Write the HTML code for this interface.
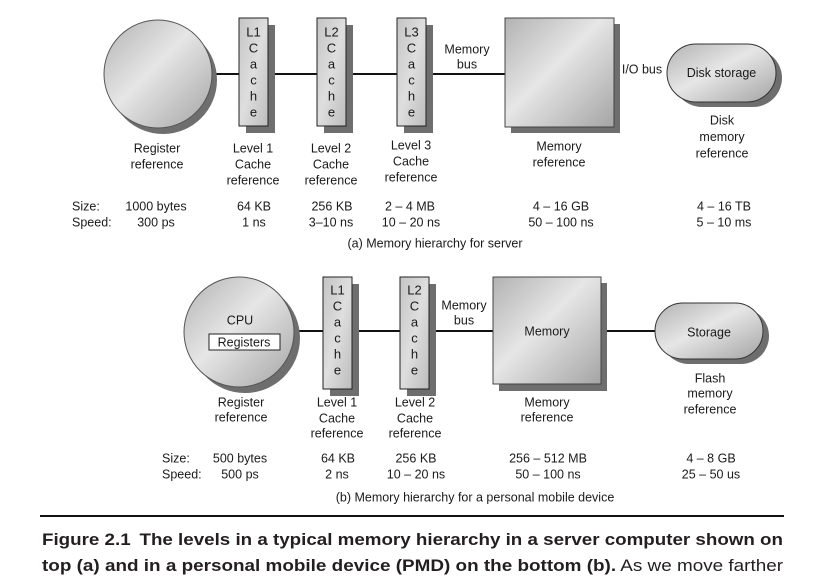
<!DOCTYPE html>
<html><head><meta charset="utf-8"><style>
html,body{margin:0;padding:0;background:#fff;}
svg{display:block;}
text{font-family:"Liberation Sans",Arial,sans-serif;fill:#1a1a1a;}
.t{font-size:12.5px;text-anchor:middle;}
.s{font-size:12.5px;}
.c{font-size:13px;text-anchor:middle;}
.cap{font-size:17px;fill:#231f20;}
</style></head><body>
<svg width="824" height="579" viewBox="0 0 824 579" xmlns="http://www.w3.org/2000/svg">
<defs>
<linearGradient id="g" x1="0" y1="0" x2="1" y2="1">
<stop offset="0" stop-color="#b2b2b2"/>
<stop offset="0.45" stop-color="#e6e6e6"/>
<stop offset="1" stop-color="#a4a4a4"/>
</linearGradient>
<linearGradient id="gb" x1="0" y1="0" x2="1" y2="1">
<stop offset="0" stop-color="#c4c4c4"/>
<stop offset="0.5" stop-color="#dedede"/>
<stop offset="1" stop-color="#bcbcbc"/>
</linearGradient>
</defs>

<!-- ===== (a) server ===== -->
<line x1="200" y1="74" x2="506" y2="74" stroke="#111" stroke-width="2"/>
<circle cx="163" cy="80" r="54" fill="#6e6e6e"/>
<circle cx="158" cy="74" r="54" fill="url(#g)" stroke="#555" stroke-width="1"/>
<rect x="246" y="25" width="29" height="108" fill="#6e6e6e"/>
<rect x="239" y="18" width="29" height="108" fill="url(#gb)" stroke="#222" stroke-width="1"/>
<rect x="324" y="25" width="29" height="108" fill="#6e6e6e"/>
<rect x="317" y="18" width="29" height="108" fill="url(#gb)" stroke="#222" stroke-width="1"/>
<rect x="404" y="25" width="29" height="108" fill="#6e6e6e"/>
<rect x="397" y="18" width="29" height="108" fill="url(#gb)" stroke="#222" stroke-width="1"/>
<g class="c">
<text x="253.5" y="36.5">L1</text><text x="253.5" y="52.5">C</text><text x="253.5" y="68.5">a</text><text x="253.5" y="84.5">c</text><text x="253.5" y="100.5">h</text><text x="253.5" y="116.5">e</text>
<text x="331.5" y="36.5">L2</text><text x="331.5" y="52.5">C</text><text x="331.5" y="68.5">a</text><text x="331.5" y="84.5">c</text><text x="331.5" y="100.5">h</text><text x="331.5" y="116.5">e</text>
<text x="411.5" y="36.5">L3</text><text x="411.5" y="52.5">C</text><text x="411.5" y="68.5">a</text><text x="411.5" y="84.5">c</text><text x="411.5" y="100.5">h</text><text x="411.5" y="116.5">e</text>
</g>
<rect x="511" y="24" width="109" height="109" fill="#6e6e6e"/>
<rect x="505" y="18" width="109" height="109" fill="url(#g)" stroke="#444" stroke-width="1"/>
<rect x="673" y="49" width="109" height="58" rx="29" fill="#6e6e6e"/>
<rect x="667" y="44" width="109" height="58" rx="29" fill="url(#g)" stroke="#333" stroke-width="1"/>
<text class="t" x="721.5" y="77">Disk storage</text>

<g class="t">
<text x="467" y="53.5">Memory</text><text x="467" y="68.5">bus</text>
<text x="642" y="73.5">I/O bus</text>
<text x="157" y="152.5">Register</text><text x="157" y="168.5">reference</text>
<text x="253" y="152.5">Level 1</text><text x="253" y="168.5">Cache</text><text x="253" y="184.5">reference</text>
<text x="331" y="152.5">Level 2</text><text x="331" y="168.5">Cache</text><text x="331" y="184.5">reference</text>
<text x="411" y="149.5">Level 3</text><text x="411" y="165.5">Cache</text><text x="411" y="181.5">reference</text>
<text x="559" y="150.5">Memory</text><text x="559" y="166.5">reference</text>
<text x="722" y="124.5">Disk</text><text x="722" y="141">memory</text><text x="722" y="157.5">reference</text>
</g>
<text class="s" x="72" y="210.5">Size:</text>
<text class="s" x="72" y="226.5">Speed:</text>
<g class="t">
<text x="156" y="210.5">1000 bytes</text><text x="156" y="226.5">300 ps</text>
<text x="254" y="210.5">64 KB</text><text x="254" y="226.5">1 ns</text>
<text x="332" y="210.5">256 KB</text><text x="331" y="226.5">3–10 ns</text>
<text x="410" y="210.5">2 – 4 MB</text><text x="411" y="226.5">10 – 20 ns</text>
<text x="561" y="210.5">4 – 16 GB</text><text x="561" y="226.5">50 – 100 ns</text>
<text x="724" y="210.5">4 – 16 TB</text><text x="724" y="226.5">5 – 10 ms</text>
<text x="435" y="247.5">(a) Memory hierarchy for server</text>
</g>

<!-- ===== (b) PMD ===== -->
<line x1="285" y1="331" x2="656" y2="331" stroke="#111" stroke-width="2"/>
<circle cx="245" cy="338" r="55" fill="#6e6e6e"/>
<circle cx="239" cy="332" r="55" fill="url(#g)" stroke="#555" stroke-width="1"/>
<text class="t" x="240" y="324.5">CPU</text>
<rect x="209" y="334" width="71" height="16" fill="#fff" stroke="#222" stroke-width="1"/>
<text class="t" x="244" y="346.5">Registers</text>

<rect x="330" y="284" width="29" height="112" fill="#6e6e6e"/>
<rect x="323" y="277" width="29" height="112" fill="url(#gb)" stroke="#222" stroke-width="1"/>
<rect x="407" y="284" width="29" height="112" fill="#6e6e6e"/>
<rect x="400" y="277" width="29" height="112" fill="url(#gb)" stroke="#222" stroke-width="1"/>
<g class="c">
<text x="337.5" y="294.5">L1</text><text x="337.5" y="310.5">C</text><text x="337.5" y="326.5">a</text><text x="337.5" y="342.5">c</text><text x="337.5" y="358.5">h</text><text x="337.5" y="374.5">e</text>
<text x="414.5" y="294.5">L2</text><text x="414.5" y="310.5">C</text><text x="414.5" y="326.5">a</text><text x="414.5" y="342.5">c</text><text x="414.5" y="358.5">h</text><text x="414.5" y="374.5">e</text>
</g>
<rect x="499" y="283" width="108" height="108" fill="#6e6e6e"/>
<rect x="493" y="277" width="108" height="107" fill="url(#g)" stroke="#444" stroke-width="1"/>
<text class="t" x="547" y="335.5">Memory</text>

<rect x="661" y="308" width="108" height="56" rx="28" fill="#6e6e6e"/>
<rect x="655" y="303" width="108" height="56" rx="28" fill="url(#g)" stroke="#333" stroke-width="1"/>
<text class="t" x="709" y="336.5">Storage</text>

<g class="t">
<text x="464" y="309.5">Memory</text><text x="464" y="324.5">bus</text>
<text x="241" y="406.5">Register</text><text x="241" y="421.5">reference</text>
<text x="337" y="406.5">Level 1</text><text x="337" y="422.5">Cache</text><text x="337" y="437.5">reference</text>
<text x="415" y="406.5">Level 2</text><text x="415" y="422.5">Cache</text><text x="415" y="437.5">reference</text>
<text x="547" y="406.5">Memory</text><text x="547" y="421.5">reference</text>
<text x="710" y="382.5">Flash</text><text x="710" y="397.5">memory</text><text x="710" y="413.5">reference</text>
</g>
<text class="s" x="162" y="462.5">Size:</text>
<text class="s" x="162" y="478.5">Speed:</text>
<g class="t">
<text x="240" y="462.5">500 bytes</text><text x="240" y="478.5">500 ps</text>
<text x="338" y="462.5">64 KB</text><text x="337" y="478.5">2 ns</text>
<text x="416" y="462.5">256 KB</text><text x="416" y="478.5">10 – 20 ns</text>
<text x="548" y="462.5">256 – 512 MB</text><text x="548" y="478.5">50 – 100 ns</text>
<text x="711" y="462.5">4 – 8 GB</text><text x="711" y="478.5">25 – 50 us</text>
<text x="475" y="501.5">(b) Memory hierarchy for a personal mobile device</text>
</g>

<rect x="40" y="515" width="744" height="2" fill="#111"/>
<text class="cap" x="42" y="545" textLength="741" lengthAdjust="spacingAndGlyphs" font-weight="bold">Figure 2.1<tspan dx="8">The levels in a typical memory hierarchy in a server computer shown on</tspan></text>
<text class="cap" x="42" y="571" textLength="741" lengthAdjust="spacingAndGlyphs"><tspan font-weight="bold">top (a) and in a personal mobile device (PMD) on the bottom (b).</tspan> As we move farther</text>
</svg>
</body></html>
